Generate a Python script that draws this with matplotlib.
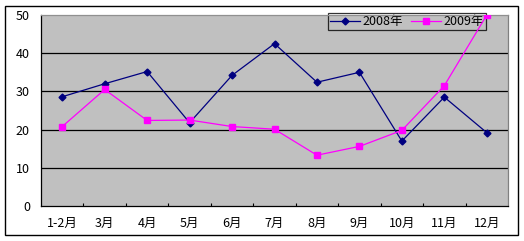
import matplotlib.pyplot as plt
from matplotlib.patches import Rectangle

plt.rcParams['font.family'] = ['Noto Sans CJK SC', 'DejaVu Sans']

# data
months = ['1-2月', '3月', '4月', '5月', '6月', '7月', '8月', '9月', '10月', '11月', '12月']
y2008 = [28.6, 32.0, 35.2, 21.8, 34.2, 42.5, 32.4, 35.0, 17.0, 28.5, 19.2]
y2009 = [20.8, 30.5, 22.4, 22.5, 20.8, 20.1, 13.3, 15.6, 19.8, 31.5, 50.0]
yticks = [0, 10, 20, 30, 40, 50]

fig = plt.figure(figsize=(5.24, 2.41), dpi=100)
ax = fig.add_axes([41/524, 35/241, 467/524, 191/241])
ax.set_facecolor('#c0c0c0')

x = range(len(months))
ax.plot(x, y2008, color='#000080', marker='D', markersize=3.5, linewidth=0.9, label='2008年', zorder=3)
ax.plot(x, y2009, color='#ff00ff', marker='s', markersize=4.5, linewidth=0.9, label='2009年', zorder=3)

ax.set_xlim(-0.5, len(months) - 0.5)
ax.set_ylim(0, 50)
ax.set_yticks(yticks)
ax.set_yticklabels([str(v) for v in yticks])
ax.set_xticks(list(x))
ax.set_xticklabels(months)
ax.set_xticks([i + 0.5 for i in range(len(months) - 1)], minor=True)
ax.tick_params(axis='x', which='major', length=0, pad=8, labelsize=9)
ax.tick_params(axis='x', which='minor', direction='in', length=2.5, width=0.8, color='black')
ax.tick_params(axis='y', length=0, pad=8, labelsize=9)

for v in yticks[1:-1]:
    ax.axhline(v, color='black', linewidth=0.9, zorder=1)

ax.spines['left'].set_color('black')
ax.spines['bottom'].set_color('black')
ax.spines['top'].set_color('#909090')
ax.spines['right'].set_color('#808080')
for s in ax.spines.values():
    s.set_linewidth(0.9)

leg = ax.legend(loc='upper right', bbox_to_anchor=(0.953, 1.01), ncol=2, fontsize=9,
                frameon=True, fancybox=False, borderaxespad=0, handlelength=2.4,
                handletextpad=0.2, columnspacing=0.7, borderpad=0.15)
leg.get_frame().set_facecolor('none')
leg.get_frame().set_edgecolor('black')
leg.get_frame().set_linewidth(0.9)
leg.set_zorder(2)

# outer chart border
fig.patches.append(Rectangle((5/524, 6/241), 513/524, 229/241, transform=fig.transFigure,
                             fill=False, edgecolor='black', linewidth=1))

fig.savefig('out.png', dpi=100)
